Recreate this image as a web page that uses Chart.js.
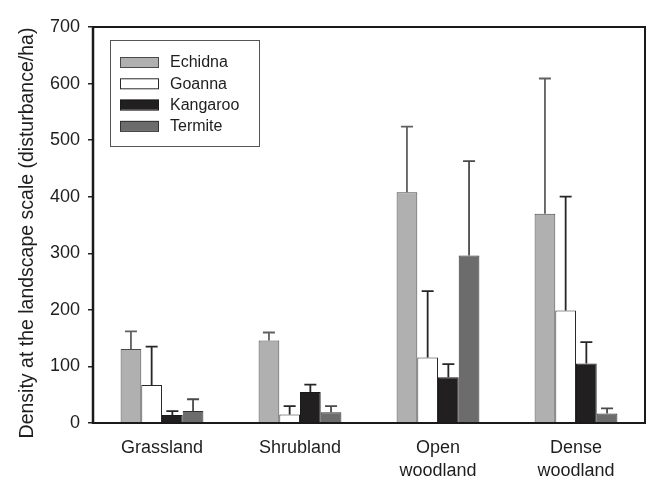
<!DOCTYPE html>
<html><head><meta charset="utf-8">
<script src="https://cdn.jsdelivr.net/npm/chart.js@4/dist/chart.umd.min.js"></script>
<style>html,body{margin:0;padding:0;background:#fff}</style>
</head><body>
<canvas id="c" width="651" height="478"></canvas>
<script>
// Habitat categories and species
const habitats = ['Grassland', 'Shrubland', ['Open', 'woodland'], ['Dense', 'woodland']];
const species = ['Echidna', 'Goanna', 'Kangaroo', 'Termite'];

// Mean disturbance density (disturbance/ha)
const echidna = [131, 146, 408, 370];
const goanna = [67, 15, 116, 199];
const kangaroo = [14, 55, 81, 105];
const termite = [21, 19, 296, 17];

// Standard errors (upper bars only)
const echidnaSE = [31, 14, 116, 239];
const goannaSE = [68, 15, 117, 201];
const kangarooSE = [7, 13, 23, 38];
const termiteSE = [21, 11, 167, 9];

// Y axis range
const yMin = 0, yMax = 700, yStep = 100;
const yTitle = 'Density at the landscape scale (disturbance/ha)';

const fills = ['#b0b0b0', '#ffffff', '#221f20', '#6c6c6c'];
const edges = ['#4a4a4a', '#2a2a2a', '#1a1a1a', '#333333'];
const whiskers = ['#606060', '#262626', '#262626', '#4a4a4a'];
const FONT = 'Liberation Sans';
const TEXT = '#1e1e1e';

const seriesValues = [echidna, goanna, kangaroo, termite];
const seriesSE = [echidnaSE, goannaSE, kangarooSE, termiteSE];

const datasets = species.map((name, i) => ({
  label: name,
  data: seriesValues[i],
  se: seriesSE[i],
  whisker: whiskers[i],
  backgroundColor: fills[i],
  borderColor: edges[i],
  borderWidth: 1,
  borderSkipped: 'bottom'
}));

// One-sided error bars with caps
const errorBars = {
  id: 'errorBars',
  afterDatasetsDraw(chart) {
    const ctx = chart.ctx;
    const y = chart.scales.y;
    ctx.save();
    ctx.lineWidth = 1.8;
    chart.data.datasets.forEach((ds, di) => {
      const meta = chart.getDatasetMeta(di);
      ctx.strokeStyle = ds.whisker;
      meta.data.forEach((bar, i) => {
        const top = y.getPixelForValue(ds.data[i] + ds.se[i]);
        ctx.beginPath();
        ctx.moveTo(bar.x, bar.y);
        ctx.lineTo(bar.x, top);
        ctx.moveTo(bar.x - 6, top);
        ctx.lineTo(bar.x + 6, top);
        ctx.stroke();
      });
    });
    ctx.restore();
  }
};

// Plot frame, rotated axis title and boxed legend
const frameLegend = {
  id: 'frameLegend',
  afterDraw(chart) {
    const ctx = chart.ctx;
    const a = chart.chartArea;
    ctx.save();
    ctx.strokeStyle = '#1a1a1a';
    ctx.lineWidth = 2;
    ctx.strokeRect(a.left, a.top, a.right - a.left, a.bottom - a.top);
    ctx.lineWidth = 2.5;
    ctx.beginPath();
    ctx.moveTo(a.left, a.top - 1);
    ctx.lineTo(a.left, a.bottom + 1);
    ctx.stroke();

    // y axis title
    ctx.save();
    ctx.translate(33, 233);
    ctx.rotate(-Math.PI / 2);
    ctx.font = '19.5px "' + FONT + '"';
    ctx.fillStyle = TEXT;
    ctx.textAlign = 'center';
    ctx.textBaseline = 'alphabetic';
    ctx.fillText(yTitle, 0, 0);
    ctx.restore();

    // legend box
    const bx = a.left + 17, by = a.top + 13, bw = 149, bh = 106;
    ctx.lineWidth = 1;
    ctx.strokeStyle = '#555';
    ctx.strokeRect(bx + 0.5, by + 0.5, bw, bh);
    ctx.font = '16px "' + FONT + '"';
    ctx.textBaseline = 'middle';
    species.forEach((name, i) => {
      const cy = by + 22 + i * 21.3;
      ctx.fillStyle = fills[i];
      ctx.fillRect(bx + 10, cy - 5, 39, 10);
      ctx.strokeStyle = edges[i];
      ctx.strokeRect(bx + 10.5, cy - 4.5, 38, 10);
      ctx.fillStyle = TEXT;
      ctx.fillText(name, bx + 60, cy + 1);
    });
    ctx.restore();
  }
};

new Chart(document.getElementById('c'), {
  type: 'bar',
  data: { labels: habitats, datasets },
  plugins: [errorBars, frameLegend],
  options: {
    responsive: false,
    animation: false,
    layout: { padding: { top: 27, right: 6, left: 0, bottom: 0 } },
    datasets: { bar: { categoryPercentage: 0.6, barPercentage: 1.0 } },
    plugins: { legend: { display: false }, tooltip: { enabled: false } },
    scales: {
      x: {
        grid: { display: false },
        border: { display: false },
        ticks: { color: TEXT, padding: 6, font: { family: FONT, size: 18, lineHeight: 1.26 }, maxRotation: 0 },
        afterFit(s) { s.height = 55; }
      },
      y: {
        min: yMin, max: yMax,
        grid: { drawOnChartArea: false, drawTicks: true, tickLength: 5, color: '#222', lineWidth: 1.5 },
        border: { display: false },
        ticks: { stepSize: yStep, color: TEXT, padding: 8, font: { family: FONT, size: 18 } },
        afterFit(s) { s.width = 93; }
      }
    }
  }
});
</script>
</body></html>
